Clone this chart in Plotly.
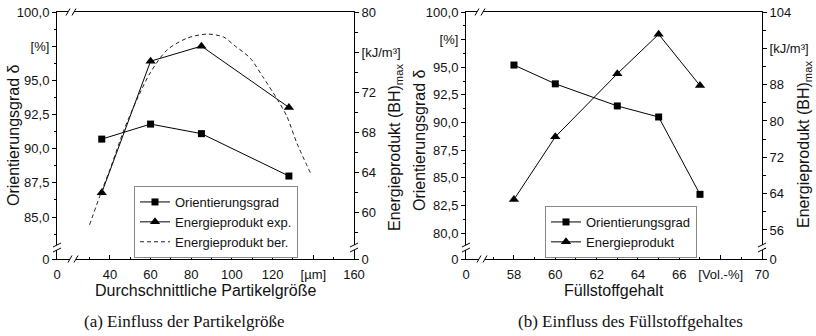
import plotly.graph_objects as go

W, H = 816, 336

# ---------------- data (a) ----------------
size_a = [36, 60, 85, 128]
orient_a = [90.7, 91.8, 91.1, 88.0]
energy_exp_a = [62.0, 75.1, 76.6, 70.5]
ber_x = [30, 36, 40, 47, 54, 60, 68, 78, 88, 96, 101, 109, 115, 122, 127, 132, 139]
ber_y = [58.8, 62.2, 64.3, 68.3, 71.6, 74.0, 76.2, 77.4, 77.8, 77.5, 76.7, 75.4, 73.6, 71.4, 69.6, 66.9, 63.8]

# ---------------- data (b) ----------------
fill_b = [58, 60, 63, 65, 67]
orient_b = [95.2, 93.5, 91.5, 90.5, 83.5]
energy_b = [62.7, 76.5, 90.4, 99.1, 87.8]

# tick labels
xa_vals = [14, 40, 60, 80, 100, 120, 140, 160]
xa_text = ["0", "40", "60", "80", "100", "120", "[µm]", "160"]
ya_vals = [81.93, 85, 87.5, 90, 92.5, 95, 97.5, 100]
ya_text = ["0", "85,0", "87,5", "90,0", "92,5", "95,0", "[%]", "100,0"]
y2a_vals = [55.4, 60, 64, 68, 72, 76, 80]
y2a_text = ["0", "60", "64", "68", "72", "[kJ/m³]", "80"]

xb_vals = [55.68, 58, 60, 62, 64, 66, 68, 70]
xb_text = ["0", "58", "60", "62", "64", "66", "[Vol.-%]", "70"]
yb_vals = [77.65, 80, 82.5, 85, 87.5, 90, 92.5, 95, 97.5, 100]
yb_text = ["0", "80,0", "82,5", "85,0", "87,5", "90,0", "92,5", "95,0", "[%]", "100,0"]
y2b_vals = [49.6, 56, 64, 72, 80, 88, 96, 104]
y2b_text = ["0", "56", "64", "72", "80", "88", "[kJ/m³]", "104"]

FONT = "Liberation Sans, Arial, sans-serif"
line = dict(color="black", width=1)

fig = go.Figure()
fig.add_trace(go.Scatter(x=size_a, y=orient_a, mode="lines+markers", name="Orientierungsgrad",
                         line=line, marker=dict(symbol="square", size=7, color="black"),
                         xaxis="x", yaxis="y", legend="legend"))
fig.add_trace(go.Scatter(x=size_a, y=energy_exp_a, mode="lines+markers", name="Energieprodukt exp.",
                         line=line, marker=dict(symbol="triangle-up", size=9, color="black"),
                         xaxis="x", yaxis="y2", legend="legend"))
fig.add_trace(go.Scatter(x=ber_x, y=ber_y, mode="lines", name="Energieprodukt ber.",
                         line=dict(color="#222", width=1, dash="4px,3px", shape="spline", smoothing=0.8),
                         xaxis="x", yaxis="y2", legend="legend"))
fig.add_trace(go.Scatter(x=fill_b, y=orient_b, mode="lines+markers", name="Orientierungsgrad",
                         line=line, marker=dict(symbol="square", size=7, color="black"),
                         xaxis="x2", yaxis="y3", legend="legend2"))
fig.add_trace(go.Scatter(x=fill_b, y=energy_b, mode="lines+markers", name="Energieprodukt",
                         line=line, marker=dict(symbol="triangle-up", size=9, color="black"),
                         xaxis="x2", yaxis="y4", legend="legend2"))

tickfont = dict(family=FONT, size=13, color="#111")

def xax(dom, rng, vals, text, minor):
    return dict(domain=dom, range=rng, tickmode="array", tickvals=vals, ticktext=text,
                showline=True, linecolor="black", linewidth=1, mirror=True,
                ticks="inside", ticklen=4, tickcolor="black", tickfont=tickfont,
                ticklabelstandoff=3, showgrid=False, zeroline=False, automargin=False,
                minor=dict(tickvals=minor, ticks="inside", ticklen=2.5, tickcolor="black"))

def yax(dom, rng, vals, text, minor, side="left", anchor="x", overlaying=None):
    d = dict(range=rng, tickmode="array", tickvals=vals, ticktext=text, side=side, anchor=anchor,
             showline=True, linecolor="black", linewidth=1,
             ticks="outside", ticklen=4, tickcolor="black", tickfont=tickfont,
             showgrid=False, zeroline=False, automargin=False,
             minor=dict(tickvals=minor, ticks="outside", ticklen=2.5, tickcolor="black"))
    if overlaying:
        d["overlaying"] = overlaying
    else:
        d["domain"] = dom
    return d

ydom = [1 - 259 / H, 1 - 12 / H]
legfont = dict(family=FONT, size=13, color="#111")
fig.update_layout(
    width=W, height=H, margin=dict(l=0, r=0, t=0, b=0, autoexpand=False),
    paper_bgcolor="white", plot_bgcolor="white",
    font=dict(family=FONT, color="#111"),
    xaxis=xax([57 / W, 354 / W], [14, 160], xa_vals, xa_text, [30, 50, 70, 90, 110, 130, 150]),
    yaxis=yax(ydom, [81.93, 100], ya_vals, ya_text, [83.75, 86.25, 88.75, 91.25, 93.75, 96.25, 98.75]),
    yaxis2=yax(None, [55.4, 80], y2a_vals, y2a_text, [58, 62, 66, 70, 74, 78], side="right", anchor="x", overlaying="y"),
    xaxis2=xax([466 / W, 762 / W], [55.68, 70], xb_vals, xb_text, [57, 59, 61, 63, 65, 67, 69]),
    yaxis3=yax(ydom, [77.65, 100], yb_vals, yb_text, [81.25, 83.75, 86.25, 88.75, 91.25, 93.75, 96.25, 98.75], anchor="x2"),
    yaxis4=yax(None, [49.6, 104], y2b_vals, y2b_text, [52, 60, 68, 76, 84, 92, 100], side="right", anchor="x2", overlaying="y3"),
    legend=dict(x=134 / W, y=1 - 258 / H, xanchor="left", yanchor="bottom", bgcolor="white",
                bordercolor="#888", borderwidth=1, font=legfont, tracegroupgap=0, itemwidth=30),
    legend2=dict(x=545 / W, y=1 - 258 / H, xanchor="left", yanchor="bottom", bgcolor="white",
                 bordercolor="#888", borderwidth=1, font=legfont, tracegroupgap=0, itemwidth=30),
    showlegend=True,
)

def px(x):
    return x / W

def py(y):
    return 1 - y / H

shapes = []

def gap(x0, y0, x1, y1):
    shapes.append(dict(type="rect", xref="paper", yref="paper", x0=px(x0), x1=px(x1), y0=py(y0), y1=py(y1),
                       fillcolor="white", line=dict(width=0), layer="above"))

def slash(x0, y0, x1, y1):
    shapes.append(dict(type="line", xref="paper", yref="paper", x0=px(x0), x1=px(x1), y0=py(y0), y1=py(y1),
                       line=dict(color="black", width=1), layer="above"))

for L, R in [(57, 354), (466, 762)]:
    # top axis break
    gap(L + 11, 10, L + 17, 14)
    slash(L + 9, 15.5, L + 13, 8.5)
    slash(L + 15, 15.5, L + 19, 8.5)
    # bottom axis break
    gap(L + 13, 257, L + 19, 261)
    slash(L + 11, 262.5, L + 15, 255.5)
    slash(L + 17, 262.5, L + 21, 255.5)
    # left axis break
    gap(L - 2, 245, L + 2, 250)
    slash(L - 4, 247, L + 4, 243)
    slash(L - 4, 252, L + 4, 248)
    # right axis break
    gap(R - 2, 245, R + 2, 250)
    slash(R - 4, 247, R + 4, 243)
    slash(R - 4, 252, R + 4, 248)

fig.update_layout(shapes=shapes)

ann = []
tfont = dict(family=FONT, size=16, color="#111")

def title(text, x, y, angle=0):
    ann.append(dict(text=text, x=px(x), y=py(y), xref="paper", yref="paper", showarrow=False,
                    textangle=angle, font=tfont, xanchor="center", yanchor="middle"))

title("Orientierungsgrad δ", 13, 135, -90)
title("Energieprodukt (BH)<sub>max</sub>", 395, 148, -90)
title("Durchschnittliche Partikelgröße", 206, 290)
title("Orientierungsgrad δ", 419, 140, -90)
title("Energieprodukt (BH)<sub>max</sub>", 804, 145, -90)
title("Füllstoffgehalt", 614, 290)

cfont = dict(family="Liberation Serif, DejaVu Serif, serif", size=17, color="#111")
ann.append(dict(text="(a) Einfluss der Partikelgröße", x=px(184), y=py(321), xref="paper", yref="paper",
                showarrow=False, font=cfont, xanchor="center", yanchor="middle"))
ann.append(dict(text="(b) Einfluss des Füllstoffgehaltes", x=px(630), y=py(321), xref="paper", yref="paper",
                showarrow=False, font=cfont, xanchor="center", yanchor="middle"))
fig.update_layout(annotations=ann)

fig.write_html("out.html")
